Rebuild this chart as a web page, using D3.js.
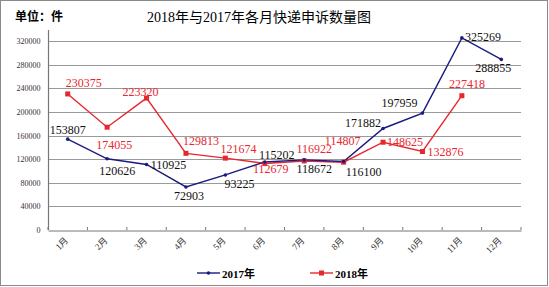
<!DOCTYPE html>
<html>
<head>
<meta charset="utf-8">
<script src="https://cdn.jsdelivr.net/npm/d3@7"></script>
<style>
  body { margin: 0; background: #fff; }
  svg { display: block; }
  text { font-family: "Liberation Serif", "Noto Sans CJK SC", serif; }
</style>
</head>
<body>
<svg id="chart" width="549" height="287"></svg>
<script>
const months = ["1月", "2月", "3月", "4月", "5月", "6月", "7月", "8月", "9月", "10月", "11月", "12月"];
const series2017 = [153807, 120626, 110925, 72903, 93225, 115202, 118672, 116100, 171882, 197959, 325269, 288855];
const series2018 = [230375, 174055, 223320, 129813, 121674, 112679, 116922, 114807, 148625, 132876, 227418];
const yTicks = [0, 40000, 80000, 120000, 160000, 200000, 240000, 280000, 320000];

// label nudges (dx, dy) relative to each point
const off2017 = [[0,-5],[10,16],[22,5],[3,13],[14,13],[12,-3],[10,13],[20,15],[-20,-1],[-23,-6],[21,3],[-8,13]];
const off2018 = [[16,-7],[7,22],[-6,-2],[15,-8],[13,-5],[6,10],[10,-8],[-1,-17],[22,4],[23,4],[5,-8]];

const blue = "#1a1a80", red = "#e8262e";

const svg = d3.select("#chart");

svg.append("rect")
    .attr("x", 0.5).attr("y", 0.5)
    .attr("width", 547).attr("height", 285)
    .attr("fill", "#fff").attr("stroke", "#8a8a8a");

const x = d3.scaleBand().domain(months).range([48, 521]);
const y = d3.scaleLinear().domain([0, 320000]).range([230, 41]);

// title
svg.append("text").attr("x", 15).attr("y", 21)
    .attr("font-size", 12).attr("font-weight", "bold")
    .text("单位：件");
svg.append("text").attr("x", 259).attr("y", 22)
    .attr("text-anchor", "middle").attr("font-size", 14)
    .text("2018年与2017年各月快递申诉数量图");

// grid
svg.append("g").selectAll("line")
  .data(yTicks.slice(1))
  .enter().append("line")
    .attr("x1", 48).attr("x2", 521)
    .attr("y1", function(d) { return Math.round(y(d)) + 0.5; })
    .attr("y2", function(d) { return Math.round(y(d)) + 0.5; })
    .attr("stroke", "#9a9a9a").attr("stroke-width", 1.2);

// y axis
const yAxis = svg.append("g")
    .attr("transform", "translate(48.5,0)")
    .call(d3.axisLeft(y).tickValues(yTicks).tickFormat(d3.format("d")).tickSize(0).tickPadding(8));
yAxis.select(".domain").remove();
yAxis.selectAll("text").attr("font-size", 8).attr("fill", "#333")
    .attr("font-family", "Liberation Serif");
svg.append("line").attr("x1", 48.5).attr("x2", 48.5).attr("y1", 30).attr("y2", 230)
    .attr("stroke", "#777").attr("stroke-width", 1.2);

// x axis
const xAxis = svg.append("g")
    .attr("transform", "translate(0,230.5)")
    .call(d3.axisBottom(x).tickSize(0).tickFormat(""));
xAxis.select(".domain").attr("stroke", "#777").attr("stroke-width", 1.2);
svg.append("g").selectAll("line")
  .data(d3.range(months.length + 1))
  .enter().append("line")
    .attr("x1", function(i) { return 48 + i * x.step(); })
    .attr("x2", function(i) { return 48 + i * x.step(); })
    .attr("y1", 227).attr("y2", 230)
    .attr("stroke", "#777");

svg.append("g").selectAll("text")
  .data(months)
  .enter().append("text")
    .attr("transform", function(d) { return "translate(" + (x(d) + x.bandwidth() / 2 + 1) + ",241) rotate(-45)"; })
    .attr("text-anchor", "end")
    .attr("font-size", 9)
    .attr("fill", "#333")
    .text(function(d) { return d; });

const cx = function(d, i) { return x(months[i]) + x.bandwidth() / 2; };
const line = d3.line().x(cx).y(function(d) { return y(d); });

svg.append("path").datum(series2018)
    .attr("d", line).attr("fill", "none")
    .attr("stroke", red).attr("stroke-width", 1.4);
svg.append("path").datum(series2017)
    .attr("d", line).attr("fill", "none")
    .attr("stroke", blue).attr("stroke-width", 1.4);

svg.append("g").selectAll("rect")
  .data(series2018)
  .enter().append("rect")
    .attr("x", function(d, i) { return cx(d, i) - 2.5; })
    .attr("y", function(d) { return y(d) - 2.5; })
    .attr("width", 5).attr("height", 5)
    .attr("fill", red);
svg.append("g").selectAll("circle")
  .data(series2017)
  .enter().append("circle")
    .attr("cx", cx)
    .attr("cy", function(d) { return y(d); })
    .attr("r", 1.8)
    .attr("fill", blue);

// value labels
svg.append("g").selectAll("text")
  .data(series2017)
  .enter().append("text")
    .attr("x", function(d, i) { return cx(d, i) + off2017[i][0]; })
    .attr("y", function(d, i) { return y(d) + off2017[i][1]; })
    .attr("text-anchor", "middle")
    .attr("font-size", 12)
    .attr("fill", "#111")
    .text(function(d) { return d; });
svg.append("g").selectAll("text")
  .data(series2018)
  .enter().append("text")
    .attr("x", function(d, i) { return cx(d, i) + off2018[i][0]; })
    .attr("y", function(d, i) { return y(d) + off2018[i][1]; })
    .attr("text-anchor", "middle")
    .attr("font-size", 12)
    .attr("fill", red)
    .text(function(d) { return d; });

// legend
const legend = [["2017年", blue, 197], ["2018年", red, 310]];
legend.forEach(function(l, i) {
  const g = svg.append("g").attr("transform", "translate(" + l[2] + ",273)");
  g.append("line").attr("x1", 0).attr("x2", 23).attr("y1", 0).attr("y2", 0)
      .attr("stroke", l[1]).attr("stroke-width", 1.4);
  if (i === 0) g.append("circle").attr("cx", 11.5).attr("r", 1.8).attr("fill", l[1]);
  else g.append("rect").attr("x", 9).attr("y", -2.5).attr("width", 5).attr("height", 5).attr("fill", l[1]);
  g.append("text").attr("x", 25).attr("y", 4.5)
      .attr("font-size", 11).attr("font-weight", "bold")
      .text(l[0]);
});
</script>
</body>
</html>
